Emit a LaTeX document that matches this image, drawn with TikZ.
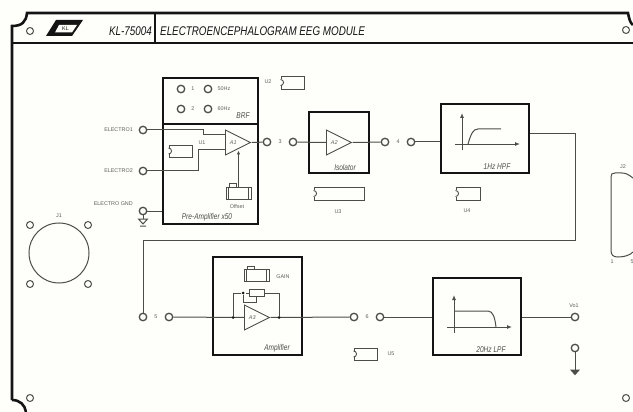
\documentclass[tikz,border=0pt]{standalone}
\usepackage{fontspec}
\usetikzlibrary{arrows.meta,calc,shapes.geometric}
\setmainfont{Liberation Sans}
\newfontfamily\panelfont[FakeStretch=0.78]{Liberation Sans}
\definecolor{KLink}{HTML}{141414}
\definecolor{KLwire}{HTML}{4C4C48}
\definecolor{KLtext}{HTML}{5E5E5A}
\definecolor{KLpaper}{HTML}{FEFEFB}
\tikzset{panel/.style={draw=KLink,line width=2.6pt},
 blockbox/.style={draw=KLink,line width=1.7pt,fill=KLpaper,inner sep=0pt},
 wire/.style={draw=KLwire,line width=1pt},
 jack/.style={circle,draw=KLwire,line width=1.3pt,fill=KLpaper,minimum size=7.5pt,inner sep=0pt},
 amp/.style={isosceles triangle,isosceles triangle stretches,anchor=west,draw=KLwire,line width=0.9pt,fill=KLpaper,
 minimum width=25pt,minimum height=25pt,inner sep=0pt,font=\fontsize{5.5}{6}\selectfont\itshape,text=KLtext},
 tiny/.style={text=KLtext,inner sep=0pt,font=\fontsize{5.4}{6}\selectfont},
 tag/.style={text=KLwire,inner sep=0pt,font=\panelfont\fontsize{8.4}{9}\selectfont\itshape},
 headline/.style={text=KLink,inner sep=0pt,font=\panelfont\fontsize{12.6}{14}\selectfont\itshape},
 socketbox/.style={draw=KLwire,line width=0.9pt,inner sep=0pt},
 axis/.style={draw=KLwire,line width=0.9pt,-{Latex[length=5pt,width=4pt]}},
 dot/.style={circle,fill=KLink,minimum size=3pt,inner sep=0pt}}
\newcommand{\socket}[4]{\node[socketbox,minimum width=#3,minimum height=#4] (#1) at (#2) {};
 \fill[KLpaper] ([xshift=-1pt,yshift=3pt]#1.west) rectangle ([xshift=1pt,yshift=-3pt]#1.west);
 \draw[socketbox] ([yshift=3pt]#1.west) arc (90:-90:3pt);}
\newcommand{\trimmer}[2]{\node[socketbox,minimum width=25pt,minimum height=12pt] (#1) at (#2) {};
 \draw[socketbox] ([xshift=3pt]#1.north west) -- ([xshift=3pt]#1.south west)
 ([xshift=-3pt]#1.north east) -- ([xshift=-3pt]#1.south east)
 ([xshift=4pt]#1.north west) -- ++(0,3pt) -- ++(7pt,0) -- ++(0,-3pt);}
\begin{document}
\begin{tikzpicture}[x=1pt,y=-1pt]
\useasboundingbox[fill=KLpaper] (0,0) rectangle (633,412);
\draw[panel] (12,400) -- (12,26) .. controls (22,26) and (26,22) .. (27,13) -- (628,13) .. controls (629,18) and (630,23) .. (633,25);
\draw[panel] (12,400) .. controls (20,400) and (25,405) .. (26,412);
\draw[panel] (12,43) -- (633,43) (155,13) -- (155,43);
\fill[KLink] (46,36) -- (56,20) -- (83,20) -- (72,36) -- cycle;
\fill[KLpaper] (55,32.5) -- (59,25) -- (77,25) -- (72,32.5) -- cycle;
\node[tiny,text=KLink] (logo) at (65.5,28.8) {KL};
\node[headline,anchor=east] (model) at (152,31) {KL-75004};
\node[headline,anchor=west] (title) at (160,31) {ELECTROENCEPHALOGRAM EEG MODULE};
\foreach \hx/\hy [count=\hn] in {30/31,626/30,30/398,626/398,30/225,88/225,30/284,88/284}
 \node[jack,minimum size=7pt,line width=1pt] (hole\hn) at (\hx,\hy) {};
\node[circle,draw=KLwire,line width=1pt,minimum size=60pt,inner sep=0pt] (Jone) at (59,253) {};
\node[tiny] (Jonelab) at (59,216) {J1};
\draw[wire] (633,178) .. controls (628,174) and (625,173) .. (622,173) -- (615,173) .. controls (612,173) and (611,174) .. (611,177)
 -- (611,250) .. controls (611,255) and (613,257) .. (618,257) .. controls (625,257) and (630,255) .. (633,252);
\node[tiny] (Jtwolab) at (623,167) {J2};
\node[tiny] (Jtwoa) at (612,262) {1};
\node[tiny] (Jtwob) at (632,262) {5};
\node[blockbox,minimum width=95pt,minimum height=146pt] (preamp) at (210.5,151) {};
\draw[blockbox] (163,124) -- (258,124);
\node[blockbox,minimum width=60pt,minimum height=61pt] (isolator) at (339,142.5) {};
\node[blockbox,minimum width=88pt,minimum height=69pt] (hpf) at (485,138.5) {};
\node[blockbox,minimum width=89pt,minimum height=98pt] (amplifier) at (257.5,306) {};
\node[blockbox,minimum width=88pt,minimum height=77pt] (lpf) at (477,316.5) {};
\foreach \jname/\jx/\jy in {brfa/181/89,fiftyhz/208/89,brfb/181/109,sixtyhz/208/109,electroa/143/130,electrob/143/171,
 electrognd/143/211,outa/267/142,ina/293/142,outb/385/142,inb/411/142,outc/143/317,inc/169/317,outd/354/317,ind/380/317,vout/575/317,voutgnd/575/348}
 \node[jack] (\jname) at (\jx,\jy) {};
\foreach \lx/\ly/\ltext in {193/89/1,193/109/2,224/89/50Hz,224/109/60Hz,202/143/U1,268/82/U2,280/142/3,398/142/4,338/212/U3,467/211/U4,
 156/317/5,367/317/6,391/354/U5,283/277/GAIN,574/306/Vo1,237/207/Offset}
 \node[tiny] at (\lx,\ly) {\ltext};
\node[tiny,anchor=east] (electroalab) at (133,130) {ELECTRO1};
\node[tiny,anchor=east] (electroblab) at (133,171) {ELECTRO2};
\node[tiny,anchor=east] (electrognlab) at (133,204) {ELECTRO GND};
\node[tag] (brflab) at (243,116) {BRF};
\node[tag] (preamplab) at (207,217) {Pre-Amplifier x50};
\node[tag] (isolab) at (345,167) {Isolator};
\node[tag] (hpflab) at (497,167) {1Hz HPF};
\node[tag] (amplab) at (277,348) {Amplifier};
\node[tag] (lpflab) at (491,350) {20Hz LPF};
\draw[wire] (electroa) -- (203,130) -- (203,135) -- (225,135);
\draw[wire] (electrob) -- (198,171) -- (198,150) -- (225,150);
\node[amp] (Aone) at (225,142.5) {A1};
\node[amp] (Atwo) at (326,142.5) {A2};
\node[amp] (Athree) at (244,317.5) {A3};
\socket{Uone}{180.5,151}{23pt}{12pt}
\socket{Utwo}{292.5,82.5}{23pt}{13pt}
\socket{Uthree}{339,193.5}{50pt}{13pt}
\socket{Ufour}{468,193.5}{24pt}{13pt}
\socket{Ufive}{365.5,354}{23pt}{12pt}
\trimmer{offset}{238.5,193}
\trimmer{gain}{256.5,275.5}
\coordinate (offsetin) at (238.5,150.5);
\draw[wire,-{Latex[length=4pt,width=3.5pt]}] (offset.north) -- (offsetin);
\draw[wire] (Aone.apex) -- (outa);
\draw[wire] (electrognd) -- (electrognd -| preamp.west);
\draw[wire] (ina) -- (Atwo.west);
\draw[wire] (Atwo.apex) -- (outb);
\draw[wire] (inb) -- (inb -| hpf.west);
\coordinate (bendright) at (575,134);
\coordinate (bendleft) at (575,240);
\draw[wire] (hpf.east |- bendright) -- (bendright) -- (bendleft) -| (outc);
\draw[wire] (inc) -- (Athree.west);
\draw[wire] (Athree.apex) -- (outd);
\draw[wire] (ind) -- (ind -| lpf.west);
\draw[wire] (vout -| lpf.east) -- (vout);
\node[dot] (dota) at (233,317.5) {};
\node[dot] (dotb) at (279,317.5) {};
\node[dot] (dotc) at (243,293) {};
\draw[wire] (dota) |- (dotc) (dotb) |- (246,293);
\draw[wire] (dotc) -- (243,302) -| (256.5,296);
\node[socketbox,fill=KLpaper,minimum width=15pt,minimum height=7pt] (pot) at (256.5,293) {};
\draw[wire] (electrognd) -- (143,219);
\draw[wire] (138.5,219) -- (147.5,219) -- (143,224) -- cycle (140,226) -- (146,226);
\draw[wire] (voutgnd) -- (575,370);
\draw[wire,fill=KLwire] (571,370) -- (579,370) -- (575,374.5) -- cycle;
\draw[axis] (462,150) -- (462,113);
\draw[axis] (455,144) -- (520,144);
\draw[wire] (468,144) .. controls (471,134) and (473,129) .. (478,129) -- (501,129);
\draw[axis] (454,333) -- (454,295);
\draw[axis] (447,327) -- (512,327);
\draw[wire] (454,311) -- (488,311) .. controls (493,311) and (495,318) .. (496,327);
\end{tikzpicture}
\end{document}
